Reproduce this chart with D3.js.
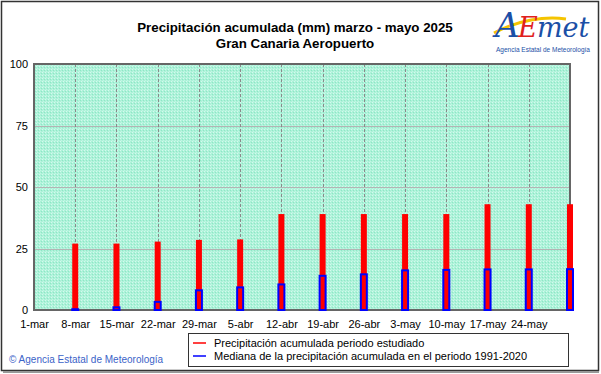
<!DOCTYPE html>
<html lang="es">
<head>
<meta charset="UTF-8">
<title>Precipitación acumulada - Gran Canaria Aeropuerto</title>
<style>
  body { margin: 0; background: #fff; }
  svg { display: block; font-family: "Liberation Sans", Arial, sans-serif; }
</style>
</head>
<body>
<svg id="chart" width="601" height="374"></svg>
<script src="https://d3js.org/d3.v7.min.js"></script>
<script>
// datos
const fechas = ["2025-03-08","2025-03-15","2025-03-22","2025-03-29","2025-04-05","2025-04-12","2025-04-19",
                "2025-04-26","2025-05-03","2025-05-10","2025-05-17","2025-05-24","2025-05-31"];
const acumulada = [27, 27, 27.8, 28.5, 28.7, 39, 39, 39, 39, 39, 43, 43, 43];
const mediana = [0.3, 1.1, 3.3, 8, 9.2, 10.4, 13.9, 14.5, 16.1, 16.3, 16.5, 16.5, 16.6];
const etiquetasX = ["1-mar","8-mar","15-mar","22-mar","29-mar","5-abr","12-abr","19-abr","26-abr","3-may","10-may","17-may","24-may"];
const ticksY = [0, 25, 50, 75, 100];

const svg = d3.select("#chart");
const parse = d3.timeParse("%Y-%m-%d");
const mIzq = 34, mDer = 570, mSup = 64, mInf = 310;

const x = d3.scaleTime()
  .domain([parse("2025-03-01"), parse("2025-05-31")])
  .range([mIzq, mDer]);
const y = d3.scaleLinear().domain([0, 100]).range([mInf, mSup]);

// marco exterior
svg.append("rect").attr("x", 1.5).attr("y", 1.5).attr("width", 597).attr("height", 369)
  .attr("fill", "#fff").attr("stroke", "#333").attr("stroke-width", 1.5);
svg.append("line").attr("x1", 3).attr("x2", 599).attr("y1", 372).attr("y2", 372)
  .attr("stroke", "#999").attr("stroke-width", 2);

// fondo moteado
const defs = svg.append("defs");
const pat = defs.append("pattern").attr("id", "moteado").attr("width", 3).attr("height", 3)
  .attr("patternUnits", "userSpaceOnUse");
pat.append("rect").attr("width", 3).attr("height", 3).attr("fill", "#acf2d8");
pat.append("rect").attr("x", 0).attr("y", 0).attr("width", 1).attr("height", 1).attr("fill", "#d4f9ee");
pat.append("rect").attr("x", 2).attr("y", 1).attr("width", 1).attr("height", 1).attr("fill", "#8ee6c6");
pat.append("rect").attr("x", 1).attr("y", 2).attr("width", 1).attr("height", 1).attr("fill", "#c2f5e4");

svg.append("rect").attr("x", mIzq).attr("y", mSup).attr("width", mDer - mIzq).attr("height", mInf - mSup)
  .attr("fill", "url(#moteado)");

// rejilla horizontal
svg.append("g").selectAll("line").data(ticksY.filter(d => d > 0 && d < 100)).join("line")
  .attr("x1", mIzq).attr("x2", mDer).attr("y1", d => Math.round(y(d)) + 0.5).attr("y2", d => Math.round(y(d)) + 0.5)
  .attr("stroke", "#b4b4b4").attr("stroke-width", 1);

// rejilla vertical (semanal)
const semanas = fechas.map(parse).filter(d => d < parse("2025-05-31"));
svg.append("g").selectAll("line").data(semanas).join("line")
  .attr("x1", d => Math.round(x(d)) + 0.5).attr("x2", d => Math.round(x(d)) + 0.5).attr("y1", mSup).attr("y2", mInf)
  .attr("stroke", "#8a8a8a").attr("stroke-dasharray", "3,2");

// borde del área
svg.append("rect").attr("x", mIzq).attr("y", mSup).attr("width", mDer - mIzq).attr("height", mInf - mSup)
  .attr("fill", "none").attr("stroke", "#666").attr("stroke-width", 2);

// eje Y
const ejeY = svg.append("g").attr("transform", `translate(${mIzq},0)`)
  .call(d3.axisLeft(y).tickValues(ticksY).tickSize(0).tickPadding(6));
ejeY.select(".domain").remove();
ejeY.selectAll("text").attr("font-size", 11).attr("fill", "#000")
  .attr("font-family", "'Liberation Sans', Arial, sans-serif");

// eje X
const fechasX = etiquetasX.map((e, i) => d3.timeDay.offset(parse("2025-03-01"), i * 7));
const ejeX = svg.append("g").attr("transform", `translate(0,${mInf})`)
  .call(d3.axisBottom(x).tickValues(fechasX).tickSize(0).tickPadding(10)
    .tickFormat((d, i) => etiquetasX[i]));
ejeX.select(".domain").remove();
ejeX.selectAll("text").attr("font-size", 11).attr("fill", "#000")
  .attr("font-family", "'Liberation Sans', Arial, sans-serif");

// barras
const datos = fechas.map((f, i) => ({ fecha: parse(f), acum: acumulada[i], med: mediana[i] }));
svg.append("g").selectAll("rect").data(datos).join("rect")
  .attr("x", d => x(d.fecha) - 3).attr("width", 6)
  .attr("y", d => y(d.acum)).attr("height", d => y(0) - y(d.acum))
  .attr("fill", "#ff0000");
svg.append("g").selectAll("rect").data(datos).join("rect")
  .attr("x", d => x(d.fecha) - 3).attr("width", 6)
  .attr("y", d => y(d.med)).attr("height", d => y(0) - y(d.med))
  .attr("fill", "none").attr("stroke", "#0000ff").attr("stroke-width", 2);

// títulos
svg.append("text").attr("x", 295).attr("y", 32).attr("text-anchor", "middle")
  .attr("font-size", 13.3).attr("font-weight", "bold")
  .text("Precipitación acumulada (mm) marzo - mayo 2025");
svg.append("text").attr("x", 295).attr("y", 48).attr("text-anchor", "middle")
  .attr("font-size", 13.3).attr("font-weight", "bold")
  .text("Gran Canaria Aeropuerto");

// logo
const logo = svg.append("g");
logo.append("path").attr("d", "M494,33 C518,20 545,16 566,19")
  .attr("fill", "none").attr("stroke", "#f5c400").attr("stroke-width", 3);
logo.append("text").attr("x", 495).attr("y", 37).attr("font-size", 34).attr("font-style", "italic")
  .attr("fill", "#1b4fa6").attr("font-family", "'DejaVu Serif', serif").text("A");
logo.append("text").attr("x", 518).attr("y", 37).attr("font-size", 27).attr("font-style", "italic")
  .attr("fill", "#e0201c").attr("font-family", "'DejaVu Serif', serif").text("E");
logo.append("text").attr("x", 537).attr("y", 37).attr("font-size", 27).attr("font-style", "italic")
  .attr("fill", "#1b4fa6").attr("font-family", "'DejaVu Serif', serif").text("met");
logo.append("text").attr("x", 543).attr("y", 52).attr("text-anchor", "middle")
  .attr("font-size", 6.5).attr("fill", "#1b4fa6").text("Agencia Estatal de Meteorología");

// leyenda
const ley = svg.append("g");
ley.append("rect").attr("x", 188.5).attr("y", 333.5).attr("width", 380).attr("height", 33)
  .attr("fill", "#fff").attr("stroke", "#333");
const series = [
  { color: "#ff0000", texto: "Precipitación acumulada periodo estudiado" },
  { color: "#0000ff", texto: "Mediana de la precipitación acumulada en el periodo 1991-2020" }
];
series.forEach((s, i) => {
  ley.append("line").attr("x1", 193).attr("x2", 206).attr("y1", 343 + i * 13).attr("y2", 343 + i * 13)
    .attr("stroke", s.color).attr("stroke-width", 1.5);
  ley.append("text").attr("x", 214).attr("y", 347 + i * 13).attr("font-size", 11).text(s.texto);
});

// copyright
svg.append("text").attr("x", 9).attr("y", 363).attr("font-size", 10).attr("fill", "#3b63c8")
  .text("© Agencia Estatal de Meteorología");
</script>
</body>
</html>
